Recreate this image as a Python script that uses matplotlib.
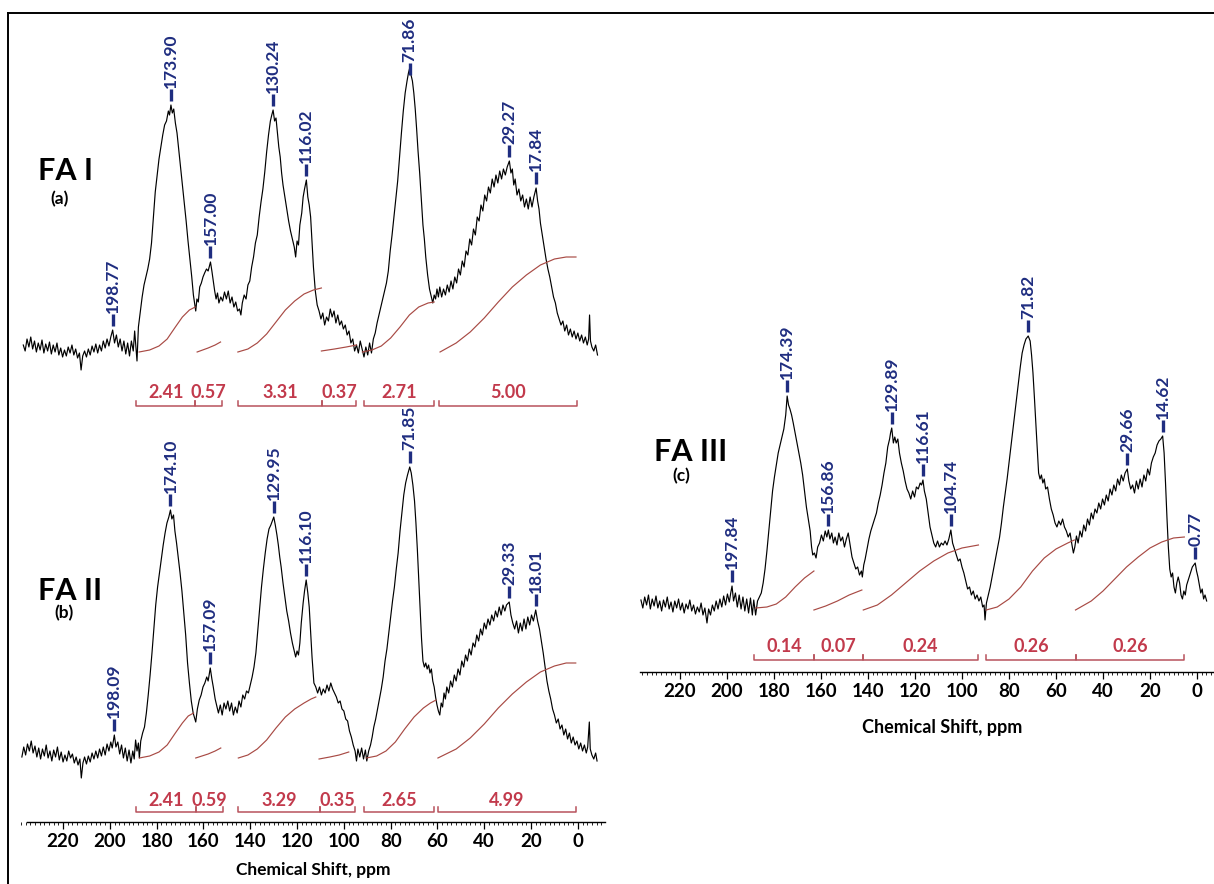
import matplotlib
matplotlib.use('Agg')
import matplotlib.pyplot as plt
from matplotlib.lines import Line2D
from matplotlib.ticker import MultipleLocator

plt.rcParams['font.family'] = ['Lato', 'DejaVu Sans']

# ---- spectrum FA I (a): (ppm, intensity) ----
points_a = [
    (237.0, 2), (236.2, -4), (235.4, 8), (234.6, 0), (233.8, 10), (233.0, -2), (232.2, 6), (231.4, -5), (230.6, 4), (229.8, -3),
    (229.0, 7), (228.2, -6), (227.4, 3), (226.6, -4), (225.8, 5), (225.0, -7), (224.2, 2), (223.4, -5), (222.6, 4), (221.8, -8),
    (221.0, -1), (220.2, -10), (219.4, -3), (218.6, -9), (217.8, 0), (217.0, -6), (216.2, 2), (215.4, -8), (214.6, -2), (213.8, -11),
    (213.0, -6), (212.3, -23), (211.6, -9), (210.8, -4), (210.0, -10), (209.2, -2), (208.4, -8), (207.6, 1), (206.8, -5), (206.0, 3),
    (205.2, -6), (204.4, 2), (203.6, -4), (202.8, 6), (202.0, -1), (201.2, 8), (200.4, 1), (199.6, 10), (198.8, 17), (198.0, 4),
    (197.2, 12), (196.4, 0), (195.6, 8), (194.8, -4), (194.0, 6), (193.2, -7), (192.4, 4), (191.6, -9), (190.8, 6), (190.0, -4),
    (189.4, 16), (188.8, -2), (188.4, -14),
    (187.8, 20), (187.0, 35), (186.2, 50), (185.4, 62), (184.6, 70), (183.8, 78), (183.0, 88), (182.2, 104), (181.4, 130), (180.6, 155),
    (179.8, 172), (179.0, 188), (178.2, 200), (177.4, 212), (176.6, 222), (175.8, 226), (175.0, 236), (174.5, 232), (173.9, 242), (173.3, 234),
    (172.7, 238), (172.0, 224), (171.3, 214), (170.6, 198), (169.8, 180), (169.0, 162), (168.2, 144), (167.4, 126), (166.6, 106), (165.8, 88),
    (165.0, 70), (164.3, 52), (163.7, 42), (163.3, 36), (162.8, 48), (162.2, 45), (161.6, 60), (160.9, 64), (160.2, 70), (159.5, 74),
    (158.7, 78), (158.0, 76), (157.0, 85), (156.4, 76), (155.8, 66), (155.2, 56), (154.6, 48), (154.0, 54), (153.4, 44), (152.6, 50),
    (151.8, 46), (151.0, 55), (150.2, 48), (149.4, 56), (148.6, 44), (147.8, 50), (147.0, 40), (146.2, 45), (145.4, 36), (144.6, 38),
    (144.0, 32), (143.4, 44), (142.6, 52), (141.8, 48), (141.0, 62), (140.2, 66), (139.4, 80), (138.6, 90), (137.8, 104), (137.0, 112),
    (136.2, 130), (135.4, 145), (134.6, 158), (133.8, 175), (133.0, 195), (132.2, 212), (131.4, 226), (130.8, 232), (130.24, 237), (129.6, 226),
    (129.0, 229), (128.4, 214), (127.8, 200), (127.2, 190), (126.6, 174), (126.0, 162), (125.2, 150), (124.4, 138), (123.6, 126), (122.8, 116),
    (122.0, 108), (121.2, 100), (120.6, 90), (120.0, 106), (119.4, 102), (118.8, 122), (118.0, 134), (117.4, 150), (116.8, 158), (116.02, 167),
    (115.4, 150), (114.8, 142), (114.2, 130), (113.6, 105), (113.0, 80), (112.2, 56), (111.4, 42), (110.6, 36), (109.8, 28), (109.0, 34),
    (108.2, 22), (107.4, 30), (106.6, 26), (105.8, 38), (105.0, 30), (104.2, 36), (103.4, 24), (102.6, 32), (101.8, 22), (101.0, 26),
    (100.2, 18), (99.4, 22), (98.6, 12), (97.8, 16), (97.0, 4), (96.2, 8), (95.4, -4), (94.6, 2), (93.8, -6), (93.0, 6),
    (92.2, -2), (91.4, -10), (90.6, 0), (89.8, -8), (89.0, 4), (88.2, -6), (87.4, 8), (86.6, 14), (85.8, 24), (85.0, 32),
    (84.2, 40), (83.4, 48), (82.6, 56), (81.8, 64), (81.0, 76), (80.2, 96), (79.4, 112), (78.6, 130), (77.8, 148), (77.0, 166),
    (76.2, 190), (75.4, 214), (74.6, 236), (73.8, 254), (73.0, 266), (72.4, 274), (71.86, 279), (71.3, 272), (70.7, 266), (70.1, 254),
    (69.5, 238), (68.9, 218), (68.3, 196), (67.6, 174), (66.9, 148), (66.2, 122), (65.6, 108), (65.0, 90), (64.2, 72), (63.4, 58),
    (62.6, 50), (62.0, 44), (61.4, 52), (60.8, 48), (60.2, 58), (59.6, 50), (59.0, 60), (58.2, 50), (57.4, 58), (56.6, 52),
    (55.8, 62), (55.0, 55), (54.2, 66), (53.4, 58), (52.6, 70), (51.8, 64), (51.0, 78), (50.2, 72), (49.4, 86), (48.6, 80),
    (47.8, 96), (47.0, 92), (46.2, 108), (45.4, 102), (44.6, 118), (43.8, 112), (43.0, 130), (42.2, 126), (41.4, 142), (40.6, 136),
    (39.8, 152), (39.0, 146), (38.2, 160), (37.4, 154), (36.6, 168), (35.8, 160), (35.0, 172), (34.2, 164), (33.4, 176), (32.6, 168),
    (31.8, 178), (31.0, 172), (30.2, 180), (29.27, 186), (28.6, 174), (28.0, 178), (27.4, 162), (26.8, 168), (26.0, 152), (25.2, 158),
    (24.4, 146), (23.6, 152), (22.8, 140), (22.0, 148), (21.2, 138), (20.4, 150), (19.6, 140), (18.8, 150), (17.84, 159), (17.2, 146),
    (16.6, 138), (16.0, 124), (15.2, 112), (14.4, 100), (13.6, 88), (12.8, 78), (12.0, 70), (11.2, 60), (10.4, 50), (9.6, 44),
    (8.8, 34), (8.0, 28), (7.2, 22), (6.4, 26), (5.6, 16), (4.8, 22), (4.0, 12), (3.2, 18), (2.4, 10), (1.6, 16),
    (0.8, 8), (0.0, 14), (-0.8, 6), (-1.6, 12), (-2.4, 4), (-3.2, 10), (-4.0, 2), (-4.6, 8), (-5.0, 32), (-5.4, 6),
    (-6.0, 0), (-6.8, -4), (-7.6, 2), (-8.4, -8),
]

# ---- spectrum FA II (b) ----
points_b = [
    (237.6, -4), (236.8, 6), (236.0, -2), (235.2, 9), (234.4, 2), (233.6, 12), (232.8, 0), (232.0, 7), (231.2, -4), (230.4, 5),
    (229.6, -6), (228.8, 4), (228.0, -3), (227.2, 8), (226.4, -5), (225.6, 2), (224.8, -8), (224.0, 3), (223.2, -4), (222.4, 6),
    (221.6, -7), (220.8, 1), (220.0, -9), (219.2, -2), (218.4, -8), (217.6, 2), (216.8, -5), (216.0, -1), (215.2, -10), (214.4, -4),
    (213.6, -12), (212.8, -6), (212.2, -25), (211.5, -10), (210.8, -4), (210.0, -11), (209.2, -3), (208.4, -9), (207.6, 0), (206.8, -6),
    (206.0, 2), (205.2, -5), (204.4, 4), (203.6, -3), (202.8, 6), (202.0, -2), (201.2, 9), (200.4, 2), (199.6, 11), (199.0, 5),
    (198.09, 18), (197.4, 6), (196.6, 11), (195.8, -1), (195.0, 8), (194.2, -5), (193.4, 5), (192.6, -8), (191.8, 3), (191.0, -10),
    (190.2, 2), (189.6, -6), (189.0, 13), (188.4, 2), (187.8, 10), (187.4, -5),
    (186.8, 12), (186.0, 20), (185.2, 26), (184.4, 40), (183.6, 58), (182.8, 78), (182.0, 100), (181.2, 124), (180.4, 148), (179.6, 166),
    (178.8, 180), (178.0, 194), (177.2, 208), (176.4, 220), (175.6, 230), (174.8, 236), (174.1, 243), (173.5, 234), (172.8, 238), (172.2, 222),
    (171.5, 210), (170.8, 196), (170.0, 180), (169.2, 162), (168.4, 140), (167.6, 118), (166.8, 90), (166.0, 70), (165.2, 52), (164.4, 40),
    (163.3, 31), (162.6, 44), (161.8, 53), (161.0, 58), (160.2, 66), (159.4, 70), (158.6, 76), (158.0, 72), (157.09, 85), (156.4, 74),
    (155.8, 66), (155.0, 54), (154.2, 46), (153.6, 40), (152.8, 48), (152.0, 38), (151.2, 50), (150.4, 44), (149.6, 52), (148.8, 42),
    (148.0, 50), (147.2, 38), (146.4, 46), (145.6, 40), (144.8, 52), (144.0, 46), (143.2, 58), (142.4, 54), (141.6, 62), (140.8, 60),
    (140.0, 68), (139.2, 76), (138.4, 86), (137.6, 100), (136.8, 122), (136.0, 144), (135.2, 166), (134.4, 184), (133.6, 200), (132.8, 214),
    (132.0, 224), (131.2, 228), (130.6, 232), (129.95, 236), (129.3, 228), (128.6, 218), (128.0, 208), (127.4, 196), (126.8, 186), (126.0, 170),
    (125.2, 156), (124.4, 142), (123.6, 132), (122.8, 120), (122.0, 110), (121.4, 104), (120.6, 96), (120.0, 102), (119.4, 98), (118.8, 110),
    (118.2, 130), (117.4, 150), (116.8, 162), (116.1, 173), (115.4, 160), (114.8, 146), (114.2, 120), (113.6, 96), (112.8, 70), (112.0, 66),
    (111.2, 60), (110.4, 66), (109.6, 58), (108.8, 64), (108.0, 60), (107.2, 68), (106.4, 62), (105.6, 70), (104.8, 64), (104.0, 60),
    (103.2, 56), (102.4, 50), (101.6, 52), (100.8, 44), (100.0, 42), (99.2, 34), (98.4, 32), (97.6, 22), (96.8, 16), (96.0, 8),
    (95.2, 2), (94.6, -8), (94.0, 4), (93.2, -4), (92.4, 5), (91.6, -6), (90.8, 3), (90.2, -8), (89.4, 2), (88.6, 8),
    (87.9, 16), (87.2, 26), (86.4, 34), (85.6, 44), (84.8, 54), (84.0, 64), (83.2, 76), (82.4, 92), (81.6, 104), (80.8, 120),
    (80.0, 136), (79.2, 152), (78.4, 166), (77.6, 184), (76.8, 200), (76.0, 222), (75.2, 240), (74.4, 258), (73.6, 270), (72.8, 278),
    (71.85, 286), (71.2, 280), (70.5, 268), (69.8, 252), (69.2, 230), (68.6, 204), (68.0, 174), (67.4, 144), (66.8, 114), (66.2, 92),
    (65.6, 86), (65.0, 90), (64.4, 84), (63.8, 88), (63.2, 80), (62.6, 84), (62.0, 72), (61.4, 66), (60.8, 56), (60.2, 48),
    (59.6, 42), (59.0, 38), (58.4, 50), (57.8, 46), (57.2, 60), (56.6, 54), (56.0, 66), (55.2, 60), (54.4, 72), (53.6, 66),
    (52.8, 78), (52.0, 72), (51.2, 84), (50.4, 78), (49.6, 92), (48.8, 86), (48.0, 98), (47.2, 92), (46.4, 104), (45.6, 98),
    (44.8, 110), (44.0, 106), (43.2, 118), (42.4, 112), (41.6, 124), (40.8, 118), (40.0, 130), (39.2, 124), (38.4, 134), (37.6, 128),
    (36.8, 138), (36.0, 132), (35.2, 142), (34.4, 136), (33.6, 146), (32.8, 138), (32.0, 148), (31.2, 142), (30.5, 148), (29.33, 151),
    (28.6, 138), (27.8, 130), (27.0, 124), (26.2, 132), (25.4, 120), (24.6, 130), (23.8, 122), (23.0, 134), (22.2, 124), (21.4, 136),
    (20.6, 128), (19.8, 138), (19.0, 132), (18.01, 143), (17.2, 132), (16.4, 124), (15.6, 112), (14.8, 100), (14.0, 86), (13.2, 72),
    (12.4, 62), (11.6, 54), (10.8, 44), (10.0, 38), (9.2, 30), (8.4, 34), (7.6, 24), (6.8, 28), (6.0, 18), (5.2, 24),
    (4.4, 14), (3.6, 20), (2.8, 10), (2.0, 16), (1.2, 8), (0.4, 12), (-0.4, 4), (-1.2, 10), (-2.0, 2), (-2.8, 8),
    (-3.6, 0), (-4.2, 6), (-4.9, 31), (-5.3, 4), (-6.0, -2), (-6.8, -6), (-7.6, 0), (-8.2, -8),
]

# ---- spectrum FA III (c) ----
points_c = [
    (236.6, 3), (235.8, -5), (235.0, 6), (234.2, -2), (233.4, 8), (232.6, -6), (231.8, 4), (231.0, -3), (230.2, 7), (229.4, -5),
    (228.6, 2), (227.8, -8), (227.0, 3), (226.2, -4), (225.4, 6), (224.6, -6), (223.8, 1), (223.0, -9), (222.2, 2), (221.4, -5),
    (220.6, 4), (219.8, -7), (219.0, 0), (218.2, -10), (217.4, -1), (216.6, -6), (215.8, 3), (215.0, -8), (214.2, -2), (213.4, -11),
    (212.6, -4), (211.8, -9), (211.0, 0), (210.2, -12), (209.4, -5), (208.5, -20), (207.8, -6), (207.0, -12), (206.2, -2), (205.4, -8),
    (204.6, 2), (203.8, -6), (203.0, 4), (202.2, -4), (201.4, 7), (200.6, -2), (199.8, 9), (199.0, 1), (198.4, 10), (197.84, 17),
    (197.2, 2), (196.4, 10), (195.6, -4), (194.8, 8), (194.0, -6), (193.2, 6), (192.4, -8), (191.6, 4), (190.8, -10), (190.0, 5),
    (189.2, -12), (188.6, 3), (187.8, -12),
    (187.0, 2), (186.2, 6), (185.4, 10), (184.6, 20), (183.8, 34), (183.0, 52), (182.2, 72), (181.4, 92), (180.6, 112), (179.8, 126),
    (179.0, 138), (178.2, 150), (177.4, 158), (176.6, 166), (175.8, 174), (175.0, 188), (174.39, 207), (173.8, 198), (173.2, 194), (172.5, 188),
    (171.8, 180), (171.0, 170), (170.2, 160), (169.4, 150), (168.6, 140), (167.8, 128), (167.0, 112), (166.2, 96), (165.4, 84), (164.6, 72),
    (164.0, 56), (163.5, 48), (162.8, 50), (162.1, 45), (161.4, 56), (160.6, 60), (159.8, 68), (159.0, 62), (158.2, 72), (157.5, 66),
    (156.86, 73), (156.2, 64), (155.4, 70), (154.7, 60), (154.0, 66), (153.2, 58), (152.4, 70), (151.6, 62), (150.8, 66), (150.0, 56),
    (149.2, 64), (148.4, 70), (147.6, 58), (146.8, 46), (146.0, 40), (145.2, 34), (144.4, 36), (143.6, 28), (142.8, 32), (142.4, 26),
    (141.8, 38), (141.2, 44), (140.4, 54), (139.6, 64), (138.8, 72), (138.0, 78), (137.2, 84), (136.4, 90), (135.6, 100), (134.8, 108),
    (134.0, 118), (133.2, 130), (132.4, 140), (131.6, 156), (130.8, 164), (130.4, 170), (129.89, 175), (129.2, 160), (128.6, 166), (128.0, 160),
    (127.3, 164), (126.6, 150), (125.8, 140), (125.0, 132), (124.2, 122), (123.4, 114), (122.6, 110), (121.8, 104), (121.0, 112), (120.2, 106),
    (119.4, 116), (118.6, 114), (117.8, 120), (117.2, 118), (116.61, 123), (116.0, 112), (115.2, 104), (114.4, 90), (113.6, 76), (112.8, 68),
    (112.0, 60), (111.2, 56), (110.4, 62), (109.6, 56), (108.8, 60), (108.0, 58), (107.2, 62), (106.4, 58), (105.6, 64), (104.74, 73),
    (104.0, 60), (103.2, 54), (102.4, 48), (101.6, 42), (100.8, 44), (100.0, 36), (99.2, 30), (98.4, 22), (97.6, 14), (96.8, 16),
    (96.0, 8), (95.2, 12), (94.4, 4), (93.6, 8), (92.8, 2), (92.0, 6), (91.2, -4), (90.6, -2), (90.2, -17), (89.6, 0),
    (88.8, 8), (88.0, 16), (87.2, 26), (86.4, 36), (85.6, 46), (84.8, 56), (84.0, 66), (83.2, 80), (82.4, 96), (81.6, 110),
    (80.8, 124), (80.0, 140), (79.2, 156), (78.4, 172), (77.6, 188), (76.8, 204), (76.0, 220), (75.2, 236), (74.4, 250), (73.6, 258),
    (72.8, 264), (71.82, 267), (71.0, 262), (70.4, 248), (69.8, 230), (69.2, 206), (68.6, 180), (68.0, 152), (67.4, 130), (66.8, 124),
    (66.2, 128), (65.6, 120), (65.0, 124), (64.4, 114), (63.6, 116), (62.8, 104), (62.0, 94), (61.2, 88), (60.4, 80), (59.6, 76),
    (58.8, 82), (58.0, 78), (57.2, 84), (56.4, 76), (55.6, 72), (54.8, 66), (54.0, 70), (53.2, 58), (52.6, 50), (52.0, 56),
    (51.3, 67), (50.6, 60), (49.8, 72), (49.0, 66), (48.2, 78), (47.4, 72), (46.6, 84), (45.8, 78), (45.0, 90), (44.2, 84),
    (43.4, 94), (42.6, 90), (41.8, 100), (41.0, 94), (40.2, 104), (39.4, 98), (38.6, 108), (37.8, 102), (37.0, 114), (36.2, 108),
    (35.4, 118), (34.6, 112), (33.8, 124), (33.0, 118), (32.2, 128), (31.4, 122), (30.6, 130), (29.66, 134), (29.0, 122), (28.2, 114),
    (27.4, 118), (26.6, 110), (25.8, 122), (25.0, 114), (24.2, 124), (23.4, 116), (22.6, 128), (21.8, 122), (21.0, 134), (20.2, 128),
    (19.4, 140), (18.6, 146), (17.8, 150), (17.0, 158), (16.2, 162), (15.4, 164), (14.62, 167), (14.0, 150), (13.4, 120), (12.8, 86),
    (12.2, 56), (11.6, 34), (11.0, 26), (10.4, 30), (9.8, 16), (9.2, 10), (8.6, 20), (8.0, 26), (7.4, 20), (6.8, 8),
    (6.2, 4), (5.6, 12), (5.0, 8), (4.4, 18), (3.6, 24), (2.8, 30), (2.0, 36), (1.4, 38), (0.77, 40), (0.2, 32),
    (-0.4, 26), (-1.0, 18), (-1.6, 10), (-2.2, 14), (-2.8, 4), (-3.4, 8), (-4.1, 2),
]

# ---- integral traces (ppm, height) ----
integ_a = [
    [(187.5, -5), (183, -3), (179, 1), (175.5, 8), (172, 20), (169, 30), (166, 37), (163.5, 40)],
    [(162.7, -5), (158, -1), (155, 2), (152.7, 5)],
    [(145.3, -5), (141, -2), (137, 4), (133, 13), (129, 25), (125, 37), (121, 46), (117, 53), (113, 57), (109.6, 59)],
    [(109.6, -4), (104, -2), (99, 0), (94.6, 2)],
    [(92.1, -5), (88, -3), (84, 1), (80, 9), (76, 20), (72, 32), (68, 40), (64, 44), (61.4, 45)],
    [(58.9, -5), (52, 4), (46, 15), (40, 29), (34, 45), (28, 60), (22, 72), (16, 82), (10, 88), (5, 90), (0.8, 90)],
]
integ_b = [
    [(187.4, -5), (183, -3), (179, 1), (175.5, 8), (172, 20), (169, 30), (166.5, 37), (164.2, 40)],
    [(163.3, -5), (158, -1), (155, 2), (152.6, 5)],
    [(145.1, -5), (141, -2), (137, 4), (133, 13), (129, 25), (125, 36), (121, 44), (117, 50), (114, 54), (112, 56)],
    [(110.6, -6), (106, -4), (102, -2), (97.9, 1)],
    [(90.4, -5), (86, -3), (82, 2), (78, 11), (74, 24), (70, 36), (66, 45), (63, 50), (60.6, 53)],
    [(59.8, -5), (52, 4), (46, 15), (40, 29), (34, 45), (28, 59), (22, 71), (16, 81), (10, 87), (5, 90), (0.9, 90)],
]
integ_c = [
    [(187.8, -5), (183, -4), (179, -1), (175, 6), (171, 16), (167, 25), (163, 32)],
    [(163, -7), (158, -3), (153, 2), (148, 8), (142.6, 13)],
    [(142, -7), (136, -2), (130, 8), (124, 20), (118, 32), (112, 42), (106, 50), (100, 55), (93, 58)],
    [(89.7, -7), (85, -4), (80, 4), (75, 16), (70, 32), (65, 45), (60, 54), (55, 60), (52.2, 63)],
    [(51.7, -7), (45, 2), (40, 12), (35, 24), (30, 36), (25, 46), (20, 55), (15, 61), (10, 65), (5.4, 66)],
]

# ---- integration regions ----
reg_start_a = [188.7, 163.5, 145.3, 109.4, 91.5, 59.5]
reg_end_a = [163.5, 152.0, 109.4, 94.8, 61.3, 0.5]
reg_val_a = ['2.41', '0.57', '3.31', '0.37', '2.71', '5.00']
reg_start_b = [188.7, 163.3, 145.1, 110.3, 91.2, 59.8]
reg_end_b = [163.3, 151.7, 110.3, 95.1, 61.4, 0.9]
reg_val_b = ['2.41', '0.59', '3.29', '0.35', '2.65', '4.99']
reg_start_c = [188.6, 163.0, 142.3, 89.7, 51.7]
reg_end_c = [163.0, 142.3, 93.0, 51.7, 5.4]
reg_val_c = ['0.14', '0.07', '0.24', '0.26', '0.26']

# ---- peak labels ----
peaks_a = ['198.77', '173.90', '157.00', '130.24', '116.02', '71.86', '29.27', '17.84']
tops_a = [17, 242, 85, 237, 167, 268, 186, 159]
peaks_b = ['198.09', '174.10', '157.09', '129.95', '116.10', '71.85', '29.33', '18.01']
tops_b = [18, 243, 85, 236, 173, 286, 151, 143]
peaks_c = ['197.84', '174.39', '156.86', '129.89', '116.61', '104.74', '71.82', '29.66', '14.62', '0.77']
tops_c = [17, 207, 73, 175, 123, 73, 267, 134, 167, 40]

tick_vals = list(range(0, 221, 20))

LAB_COL = '#1f2d80'
INT_COL = '#a84a44'
BR_COL = '#b8525c'
VAL_COL = '#c23a4c'

W, H = 1214, 884
fig = plt.figure(figsize=(W / 100, H / 100), dpi=100)


def px_axes(x0, y0, x1, y1):
    # box given in picture pixels, top-left origin
    ax = fig.add_axes([x0 / W, 1 - y1 / H, (x1 - x0) / W, (y1 - y0) / H])
    ax.patch.set_visible(False)
    for sp in ax.spines.values():
        sp.set_visible(False)
    ax.set_yticks([])
    return ax


def draw_panel(ax, pts, integ, r_start, r_end, r_val, peaks, tops, br_y, val_y):
    ppm = [p for p, _ in pts]
    inten = [v for _, v in pts]
    ax.plot(ppm, inten, color='black', lw=0.85, clip_on=False)
    for seg in integ:
        ax.plot([p for p, _ in seg], [v for _, v in seg], color=INT_COL, lw=0.85)
    for s, e, v in zip(r_start, r_end, r_val):
        ax.plot([s, s, e, e], [br_y + 5, br_y, br_y, br_y + 5], color=BR_COL, lw=1.1, clip_on=False)
        ax.text((s + e) / 2, val_y, v, color=VAL_COL, fontsize=13, fontweight='bold',
                ha='center', va='center')
    for t, top in zip(peaks, tops):
        p = float(t)
        ax.plot([p, p], [top + 4, top + 16], color=LAB_COL, lw=2.4, solid_capstyle='butt', clip_on=False)
        ax.text(p, top + 17, t, rotation=90, ha='center', va='bottom', color=LAB_COL,
                fontsize=12.5, fontweight='bold')


def ppm_axis(ax):
    ax.spines['bottom'].set_visible(True)
    ax.spines['bottom'].set_linewidth(1.0)
    ax.set_xticks(tick_vals)
    ax.set_xticklabels([str(v) for v in tick_vals], fontsize=13.5, fontweight='bold')
    ax.xaxis.set_minor_locator(MultipleLocator(2))
    ax.tick_params(axis='x', which='major', direction='out', length=5, width=0.9, pad=3)
    ax.tick_params(axis='x', which='minor', direction='out', length=2.5, width=0.6)


ax_a = px_axes(20, 0, 605, 420)
ax_a.set_xlim(238.4, -11.6)
ax_a.set_ylim(-73, 347)
ax_a.set_xticks([])
draw_panel(ax_a, points_a, integ_a, reg_start_a, reg_end_a, reg_val_a, peaks_a, tops_a, -59, -45)

ax_b = px_axes(20, 420, 605, 822)
ax_b.set_xlim(238.4, -11.6)
ax_b.set_ylim(-69, 333)
ppm_axis(ax_b)
ax_b.spines['bottom'].set_bounds(235.4, -11.6)
draw_panel(ax_b, points_b, integ_b, reg_start_b, reg_end_b, reg_val_b, peaks_b, tops_b, -59, -48)

ax_c = px_axes(640, 250, 1213, 672)
ax_c.set_xlim(237.0, -6.8)
ax_c.set_ylim(-69, 353)
ppm_axis(ax_c)
draw_panel(ax_c, points_c, integ_c, reg_start_c, reg_end_c, reg_val_c, peaks_c, tops_c, -57, -44)

# panel names
fig.text(38 / W, 1 - 171 / H, 'FA I', fontsize=22, fontweight='bold', ha='left', va='center')
fig.text(60 / W, 1 - 199 / H, '(a)', fontsize=12.5, fontweight='bold', ha='center', va='center')
fig.text(38 / W, 1 - 591 / H, 'FA II', fontsize=22, fontweight='bold', ha='left', va='center')
fig.text(64 / W, 1 - 613 / H, '(b)', fontsize=12.5, fontweight='bold', ha='center', va='center')
fig.text(654 / W, 1 - 452 / H, 'FA III', fontsize=22, fontweight='bold', ha='left', va='center')
fig.text(681 / W, 1 - 476 / H, '(c)', fontsize=12.5, fontweight='bold', ha='center', va='center')

fig.text(313 / W, 1 - 870 / H, 'Chemical Shift, ppm', fontsize=12.5, fontweight='bold', ha='center', va='center')
fig.text(942 / W, 1 - 727 / H, 'Chemical Shift, ppm', fontsize=13, fontweight='bold', ha='center', va='center')

# picture frame (top and left edges)
fig.add_artist(Line2D([8 / W, 8 / W], [0, 1 - 13 / H], color='black', lw=1.4))
fig.add_artist(Line2D([8 / W, 1], [1 - 13 / H, 1 - 13 / H], color='black', lw=1.4))

fig.savefig('out.png', dpi=100)
